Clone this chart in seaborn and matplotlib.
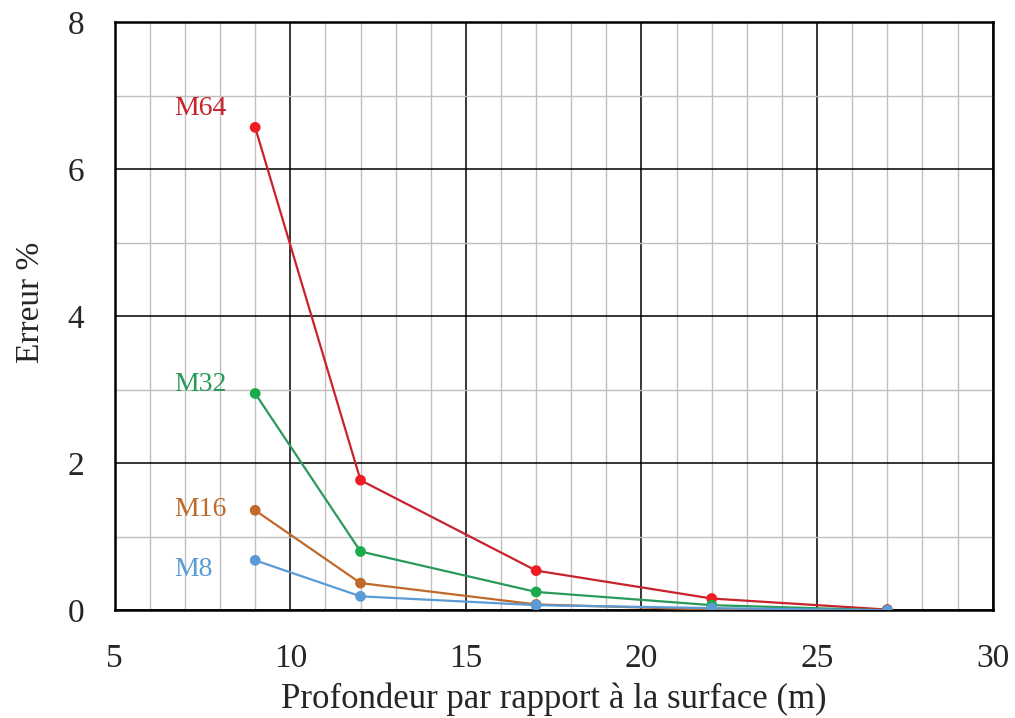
import matplotlib
matplotlib.use("Agg")
import matplotlib.pyplot as plt
import seaborn as sns
import pandas as pd
from matplotlib.ticker import MultipleLocator

# données
profondeur = [9, 12, 17, 22, 27]
m64 = [6.57, 1.77, 0.54, 0.16, 0.01]
m32 = [2.95, 0.80, 0.25, 0.07, 0.0]
m16 = [1.36, 0.37, 0.08, 0.01, 0.0]
m8 = [0.68, 0.19, 0.07, 0.03, 0.0]
series = ["M64", "M32", "M16", "M8"]

line_col = {"M64": "#c8232c", "M32": "#2a9a5b", "M16": "#c0692a", "M8": "#5b9bd5"}
dot_col = {"M64": "#ee1c25", "M32": "#1aab4b", "M16": "#c0692a", "M8": "#5b9bd5"}
label_y = {"M64": 6.82, "M32": 3.07, "M16": 1.37, "M8": 0.56}

df = pd.DataFrame({
    "x": profondeur * 4,
    "y": m64 + m32 + m16 + m8,
    "serie": [s for s in series for _ in profondeur],
})

sns.set_style("white")
plt.rcParams["font.family"] = ["Liberation Serif", "DejaVu Serif"]

fig, ax = plt.subplots(figsize=(10.15, 7.18), dpi=100)
fig.subplots_adjust(left=0.113, right=0.978, top=0.969, bottom=0.150)

for s in series:
    d = df[df["serie"] == s]
    sns.lineplot(data=d, x="x", y="y", ax=ax, color=line_col[s], lw=1.6,
                 zorder=3, legend=False)
    sns.scatterplot(data=d, x="x", y="y", ax=ax, color=dot_col[s], s=60,
                    edgecolor="none", zorder=4, legend=False)
    ax.text(6.7, label_y[s], s, color=line_col[s], fontsize=20,
            ha="left", va="center")

ax.set_xlim(5, 30)
ax.set_ylim(0, 8)
ax.xaxis.set_major_locator(MultipleLocator(5))
ax.xaxis.set_minor_locator(MultipleLocator(1))
ax.yaxis.set_major_locator(MultipleLocator(2))
ax.yaxis.set_minor_locator(MultipleLocator(1))
ax.grid(which="minor", color="#bfbfbf", lw=1.0, zorder=0)
ax.grid(which="major", color="black", lw=1.1, zorder=1)
ax.set_axisbelow(True)
for sp in ax.spines.values():
    sp.set_color("black")
    sp.set_linewidth(1.8)
ax.tick_params(which="both", length=0, labelsize=24)
ax.tick_params(axis="x", pad=24)
ax.tick_params(axis="y", pad=22)

ax.set_xlabel("Profondeur par rapport à la surface (m)", fontsize=25)
ax.set_ylabel("Erreur %", fontsize=24)
ax.xaxis.set_label_coords(0.5, -0.122)
ax.yaxis.set_label_coords(-0.078, 0.524)

fig.savefig("out.png", dpi=100)
